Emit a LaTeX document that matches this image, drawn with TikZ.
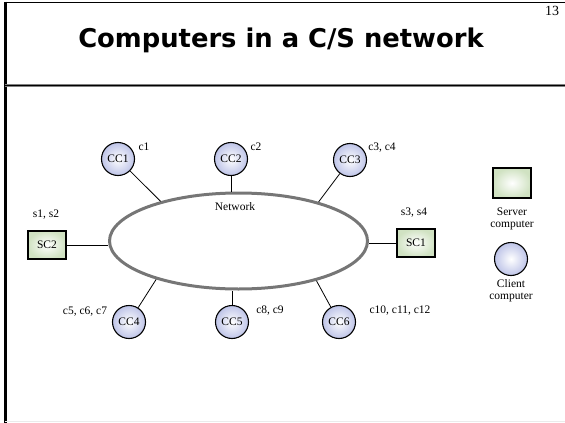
\documentclass[tikz,border=0pt]{standalone}
\usepackage{fontspec}
\setmainfont{Liberation Serif}
\newfontfamily\titlefont{DejaVu Sans}
\usetikzlibrary{shapes.geometric}
\definecolor{clientblue}{RGB}{190,196,232}
\definecolor{servergreen}{RGB}{208,226,194}
\definecolor{netgray}{RGB}{118,118,118}
\newcommand{\txt}{\fontsize{11.5}{12}\selectfont}

\begin{document}
\begin{tikzpicture}[x=1pt,y=-1pt,
 client/.style={circle,draw,line width=1.1pt,minimum size=33pt,inner sep=0pt,inner color=white,outer color=clientblue,font=\txt},
 server/.style={rectangle,draw,line width=1.1pt,minimum width=38pt,minimum height=28pt,inner sep=0pt,inner color=white,outer color=servergreen,font=\txt},
 lbl/.style={font=\txt,align=center,inner sep=0pt},
 link/.style={line width=0.8pt}]
\useasboundingbox (0,0) rectangle (565,423);
\draw[line width=1.8pt] (4,2.5) -- (565,2.5);
\draw[line width=2.6pt] (5.3,1.6) -- (5.3,423);
\draw[line width=2.4pt,gray] (5,85.5) -- (565,85.5);
\draw[line width=0.8pt] (5,85.5) -- (565,85.5);
\draw[line width=0.5pt,black!8] (5,421.5) -- (565,421.5);
\node[font=\titlefont\bfseries\fontsize{25.8}{28}\selectfont] (title) at (281,40) {Computers in a C/S network};
\node[font=\fontsize{14}{14}\selectfont] (page) at (552,11) {13};
\node[ellipse,draw=netgray,line width=3pt,minimum width=258pt,minimum height=96pt,inner sep=0pt] (net) at (238.5,241) {};
\node[lbl] (netlbl) at (235,207) {Network};
\node[client] (cc1) at (118,159) {CC1};
\node[client] (cc2) at (231,159) {CC2};
\node[client] (cc3) at (350,160) {CC3};
\node[client] (cc4) at (129,322) {CC4};
\node[client] (cc5) at (232,322) {CC5};
\node[client] (cc6) at (339,322) {CC6};
\node[server] (sc2) at (47,245) {SC2};
\node[server] (sc1) at (416,243) {SC1};
\draw[link] (cc1) -- (net.153);
\draw[link] (cc2) -- (cc2 |- net.north);
\draw[link] (cc3) -- (net.26);
\draw[link] (sc2) -- (sc2 -| net.west);
\draw[link] (sc1) -- (sc1 -| net.east);
\draw[link] (cc4) -- (net.205);
\draw[link] (cc5) -- (cc5 |- net.south);
\draw[link] (cc6) -- (net.333);
\node[lbl] (c1) at (144,147) {c1};
\node[lbl] (c2) at (256,147) {c2};
\node[lbl] (c34) at (382,148) {c3, c4};
\node[lbl] (c567) at (85,312) {c5, c6, c7};
\node[lbl] (c89) at (270,311) {c8, c9};
\node[lbl] (c1012) at (400,311) {c10, c11, c12};
\node[lbl] (s12) at (46,215) {s1, s2};
\node[lbl] (s34) at (414,213) {s3, s4};
\node[server,minimum height=30pt] (srv) at (512,183) {};
\node[lbl] (srvlbl) at (512,219) {Server\\computer};
\node[client] (cli) at (511,259) {};
\node[lbl] (clilbl) at (511,291) {Client\\computer};
\end{tikzpicture}
\end{document}
